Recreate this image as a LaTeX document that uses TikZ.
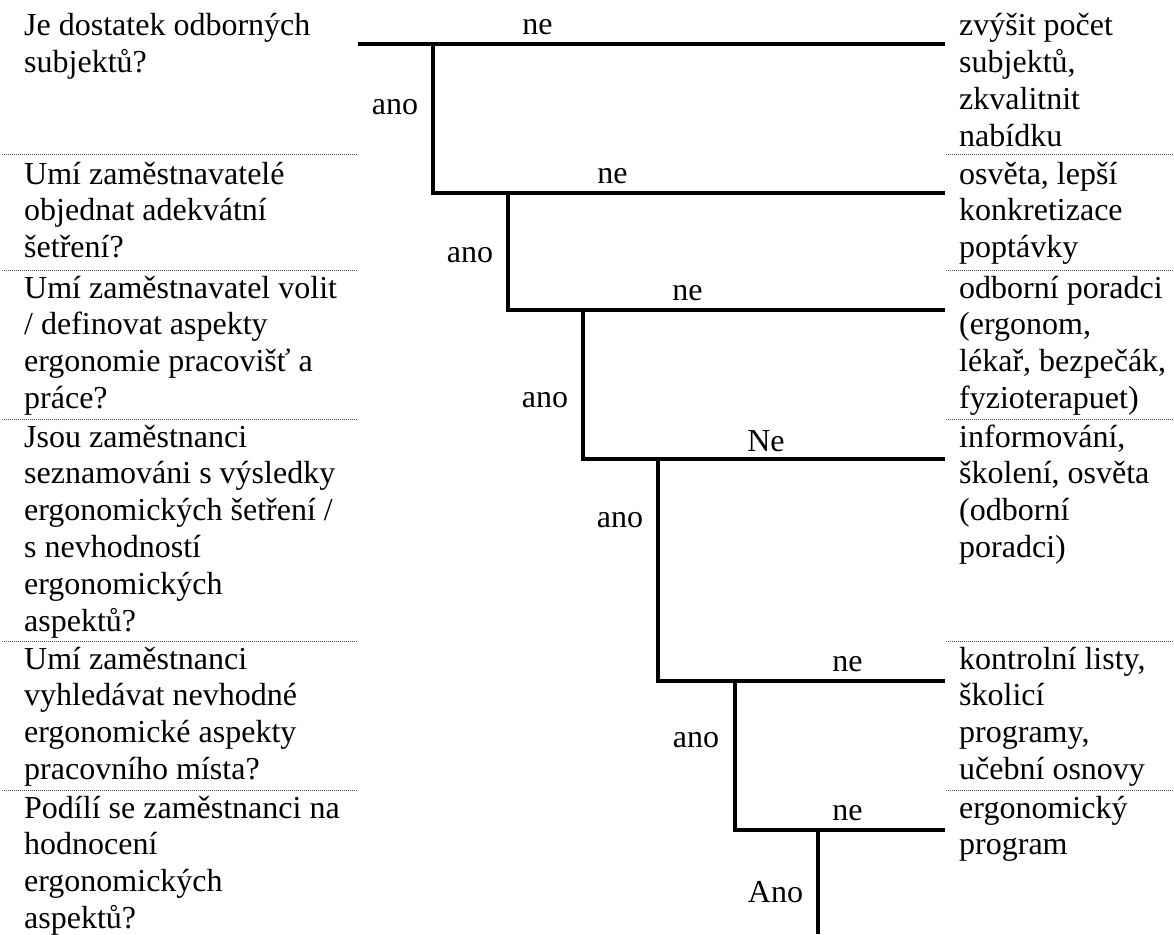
\documentclass[tikz,border=0pt]{standalone}
\usepackage{fontspec}
\setmainfont{Liberation Serif}[Ligatures=CommonOff]
\setlength{\lineskiplimit}{-30pt}
\newcommand{\bigtext}{\fontsize{32}{36.8}\selectfont}
\begin{document}
\begin{tikzpicture}[x=1pt,y=-1pt,
  txt/.style={anchor=base west, inner sep=0pt, font=\bigtext},
  lbl/.style={anchor=base, inner sep=0pt, font=\bigtext},
  branch/.style={line width=4pt, line join=miter, line cap=butt},
  rowrule/.style={line width=0.9pt, black!70, dash pattern=on 1pt off 1pt}]
\fill[white] (0,0) rectangle (1174,934);
\useasboundingbox (0,0) rectangle (1174,934);

% row separators (dotted)
\foreach \yy in {154,270,419,641,790}{
  \draw[rowrule] (2,\yy) -- (358,\yy);
  \draw[rowrule] (946,\yy) -- (1174,\yy);
}

% questions (left column)
\node[txt] (q1) at (24,36)  {\parbox[t]{340pt}{Je dostatek odborných\\subjektů?}};
\node[txt] (q2) at (24,184) {\parbox[t]{340pt}{Umí zaměstnavatelé\\objednat adekvátní\\šetření?}};
\node[txt] (q3) at (24,298) {\parbox[t]{340pt}{Umí zaměstnavatel volit\\/ definovat aspekty\\ergonomie pracovišť a\\práce?}};
\node[txt] (q4) at (24,447) {\parbox[t]{340pt}{Jsou zaměstnanci\\seznamováni s výsledky\\ergonomických šetření /\\s nevhodností\\ergonomických\\aspektů?}};
\node[txt] (q5) at (24,669) {\parbox[t]{340pt}{Umí zaměstnanci\\vyhledávat nevhodné\\ergonomické aspekty\\pracovního místa?}};
\node[txt] (q6) at (24,818) {\parbox[t]{340pt}{Podílí se zaměstnanci na\\hodnocení\\ergonomických\\aspektů?}};

% actions (right column)
\node[txt] (r1) at (959,36)  {\parbox[t]{215pt}{zvýšit počet\\subjektů,\\zkvalitnit\\nabídku}};
\node[txt] (r2) at (959,184) {\parbox[t]{215pt}{osvěta, lepší\\konkretizace\\poptávky}};
\node[txt] (r3) at (959,298) {\parbox[t]{215pt}{odborní poradci\\(ergonom,\\lékař, bezpečák,\\fyzioterapuet)}};
\node[txt] (r4) at (959,447) {\parbox[t]{215pt}{informování,\\školení, osvěta\\(odborní\\poradci)}};
\node[txt] (r5) at (959,669) {\parbox[t]{215pt}{kontrolní listy,\\školicí\\programy,\\učební osnovy}};
\node[txt] (r6) at (959,818) {\parbox[t]{215pt}{ergonomický\\program}};

% tree coordinates
\coordinate (a0) at (358,44);  \coordinate (a1) at (945,44);
\coordinate (b0) at (433,44);  \coordinate (b1) at (945,193);
\coordinate (c0) at (508,193); \coordinate (c1) at (945,310);
\coordinate (d0) at (583,310); \coordinate (d1) at (945,459);
\coordinate (e0) at (658,459); \coordinate (e1) at (945,681);
\coordinate (f0) at (735,681); \coordinate (f1) at (945,830);
\coordinate (g0) at (818,830); \coordinate (g1) at (818,934);

\draw[branch] (a0) -- (a1);
\draw[branch] (b0) |- (b1);
\draw[branch] (c0) |- (c1);
\draw[branch] (d0) |- (d1);
\draw[branch] (e0) |- (e1);
\draw[branch] (f0) |- (f1);
\draw[branch] (g0) -- (g1);

% branch labels
\node[lbl] (n1) at (537.5,35) {ne};
\node[lbl] (n2) at (612.5,183) {ne};
\node[lbl] (n3) at (687.5,300) {ne};
\node[lbl] (n4) at (766,451) {Ne};
\node[lbl] (n5) at (847.5,671) {ne};
\node[lbl] (n6) at (847.5,820) {ne};

\node[lbl] (y1) at (395,114) {ano};
\node[lbl] (y2) at (470,262) {ano};
\node[lbl] (y3) at (545,407) {ano};
\node[lbl] (y4) at (620,527) {ano};
\node[lbl] (y5) at (696,747) {ano};
\node[lbl] (y6) at (775.5,902) {Ano};
\end{tikzpicture}
\end{document}
